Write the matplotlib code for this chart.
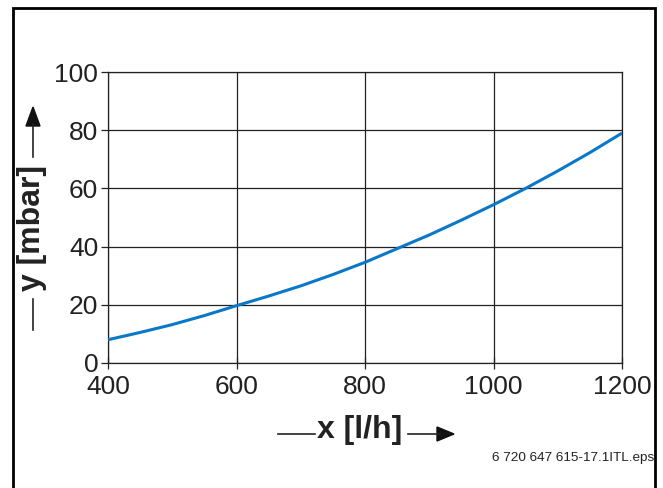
import matplotlib
matplotlib.use("Agg")
import matplotlib.pyplot as plt
from matplotlib.patches import Rectangle
from matplotlib.lines import Line2D

x_vals = [400, 450, 500, 550, 600, 650, 700, 750, 800, 850, 900, 950, 1000, 1050, 1100, 1150, 1200]
y_vals = [8.0, 10.5, 13.2, 16.3, 19.7, 23.0, 26.5, 30.4, 34.6, 39.3, 44.0, 49.1, 54.4, 60.0, 66.0, 72.3, 79.0]
x_ticks = [400, 600, 800, 1000, 1200]
y_ticks = [0, 20, 40, 60, 80, 100]
x_label = "x [l/h]"
y_label = "y [mbar]"
footer = "6 720 647 615-17.1ITL.eps"

W, H = 663, 488
plt.rcParams['font.family'] = ['Liberation Sans', 'DejaVu Sans']
fig = plt.figure(figsize=(W / 100, H / 100), dpi=100)

def fx(px):
    return px / W

def fy(py):
    return 1 - py / H

ax = fig.add_axes([fx(108), fy(363), fx(622) - fx(108), fy(72) - fy(363)])
ax.plot(x_vals, y_vals, color='#0a78c8', lw=2.2, zorder=3, solid_capstyle='butt')
ax.set_xlim(400, 1200)
ax.set_ylim(0, 100)
ax.set_xticks(x_ticks)
ax.set_yticks(y_ticks)
ax.grid(True, color='#222222', lw=0.9)
for s in ax.spines.values():
    s.set_color('#222222')
    s.set_linewidth(0.9)
ax.tick_params(axis='y', direction='out', length=5, width=0.9, labelsize=19, pad=2, colors='#222222')
ax.tick_params(axis='x', direction='inout', length=8, width=0.9, labelsize=19, pad=5, colors='#222222')
for lab in ax.get_xticklabels() + ax.get_yticklabels():
    lab.set_color('#222222')

# border frame
fig.patches.append(Rectangle((fx(13), fy(500)), fx(655) - fx(13), fy(8) - fy(500),
                             transform=fig.transFigure, fill=False, lw=2, ec='black'))

# x label with lines and arrow
ly = fy(434)
fig.text(fx(360), fy(430), x_label, ha='center', va='center', fontsize=23, fontweight='bold', color='#222222')
fig.lines.append(Line2D([fx(278), fx(315)], [ly, ly], transform=fig.transFigure, color='#222222', lw=1.2))
fig.lines.append(Line2D([fx(408), fx(440)], [ly, ly], transform=fig.transFigure, color='#222222', lw=1.2))
fig.patches.append(plt.Polygon([[fx(437), ly + 7 / H], [fx(437), ly - 7 / H], [fx(454), ly]],
                               closed=True, transform=fig.transFigure, color='#111111'))

# y label with lines and arrow
lx = fx(33)
fig.text(fx(32), fy(228), y_label, ha='center', va='center', rotation=90, fontsize=23, fontweight='bold', color='#222222')
fig.lines.append(Line2D([lx, lx], [fy(330), fy(299)], transform=fig.transFigure, color='#222222', lw=1.2))
fig.lines.append(Line2D([lx, lx], [fy(157), fy(124)], transform=fig.transFigure, color='#222222', lw=1.2))
fig.patches.append(plt.Polygon([[lx - 7 / W, fy(126)], [lx + 7 / W, fy(126)], [lx, fy(107)]],
                               closed=True, transform=fig.transFigure, color='#111111'))

fig.text(fx(654), fy(458), footer, ha='right', va='center', fontsize=9.7, color='#222222')

fig.savefig("out.png", dpi=100)
